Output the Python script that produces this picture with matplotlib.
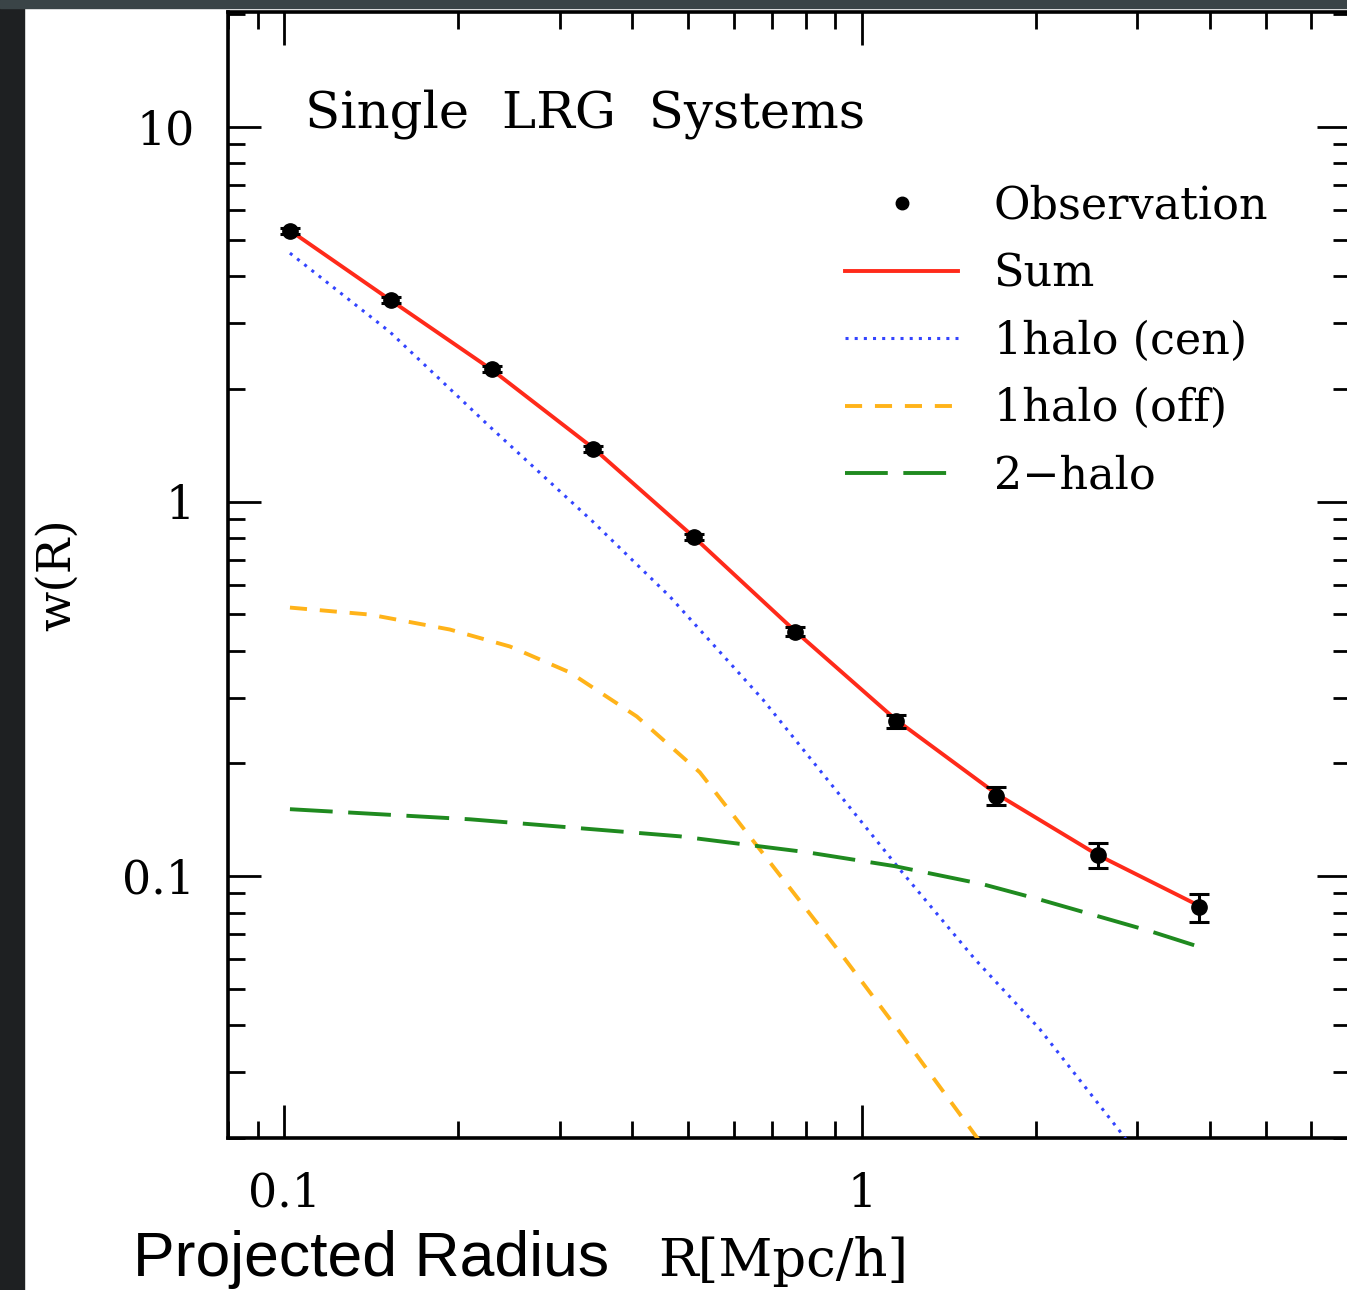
import matplotlib
matplotlib.use('Agg')
import matplotlib.pyplot as plt
from matplotlib.lines import Line2D
from matplotlib.patches import Rectangle
from matplotlib.ticker import FixedLocator, FixedFormatter, LogLocator, NullFormatter

r_obs = [0.1024, 0.153, 0.229, 0.343, 0.512, 0.766, 1.145, 1.71, 2.56, 3.83]
w_obs = [5.28, 3.46, 2.26, 1.385, 0.807, 0.450, 0.259, 0.164, 0.1138, 0.0827]
w_err = [0.10, 0.06, 0.04, 0.025, 0.015, 0.012, 0.011, 0.009, 0.0085, 0.0071]

# model curves
r_sum = [0.1024, 0.153, 0.229, 0.343, 0.512, 0.766, 1.145, 1.71, 2.56, 3.83]
w_sum = [5.30, 3.45, 2.25, 1.39, 0.805, 0.452, 0.262, 0.166, 0.114, 0.0835]

r_cen = [0.1024, 0.1525, 0.2272, 0.341, 0.4655, 0.674, 1.163, 1.569, 2.032, 2.85, 3.2]
w_cen = [4.61, 2.84, 1.585, 0.89, 0.558, 0.2965, 0.1044, 0.0601, 0.0391, 0.0201, 0.0155]

r_off = [0.1024, 0.1409, 0.1937, 0.246, 0.3125, 0.408, 0.5245, 0.666, 0.916, 1.163, 1.581, 1.75]
w_off = [0.5215, 0.4995, 0.4557, 0.4106, 0.35, 0.267, 0.1894, 0.118, 0.0627, 0.0384, 0.0201, 0.0165]

r_2h = [0.1024, 0.2098, 0.4842, 0.803, 1.14, 1.62, 2.025, 3.15, 3.80]
w_2h = [0.151, 0.1419, 0.1278, 0.1159, 0.1064, 0.0952, 0.0868, 0.0714, 0.0651]

labels = ['Observation', 'Sum', '1halo (cen)', '1halo (off)', '2\u2212halo']

plt.rcParams['font.family'] = ['DejaVu Serif']

fig = plt.figure(figsize=(13.47, 12.90), dpi=100)
# dark frame of the screenshot
fig.patches.append(Rectangle((0, 0), 24 / 1347, 1, transform=fig.transFigure,
                             color='#1e2022', zorder=10))
fig.patches.append(Rectangle((0, 1 - 8 / 1290), 1, 8 / 1290, transform=fig.transFigure,
                             color='#3a4447', zorder=10))

ax = fig.add_axes([228 / 1347, 1 - 1138 / 1290, 1122 / 1347, 1126 / 1290])
ax.set_xscale('log')
ax.set_yscale('log')
ax.set_xlim(0.08, 7.0)
ax.set_ylim(0.02, 20.3)

ax.errorbar(r_obs, w_obs, yerr=w_err, fmt='o', color='black', ms=11,
            elinewidth=2.2, capsize=7, capthick=2.2, zorder=5)
ax.plot(r_sum, w_sum, color='#ff2a1a', lw=2.8, zorder=4)
ax.plot(r_cen, w_cen, color='#3344ff', lw=2.2, dashes=(1.0, 2.0), zorder=3)
ax.plot(r_off, w_off, color='#ffb319', lw=2.8, dashes=(4.4, 3.3), zorder=3)
ax.plot(r_2h, w_2h, color='#1f8a1f', lw=2.8, dashes=(11, 4), zorder=3)

for sp in ax.spines.values():
    sp.set_linewidth(2.6)

ax.xaxis.set_major_locator(FixedLocator([0.1, 1]))
ax.xaxis.set_major_formatter(FixedFormatter(['0.1', '1']))
ax.xaxis.set_minor_locator(LogLocator(base=10, subs=range(2, 10), numticks=20))
ax.xaxis.set_minor_formatter(NullFormatter())
ax.yaxis.set_major_locator(FixedLocator([0.1, 1, 10]))
ax.yaxis.set_major_formatter(FixedFormatter(['0.1', '1', '10']))
ax.yaxis.set_minor_locator(LogLocator(base=10, subs=range(2, 10), numticks=20))
ax.yaxis.set_minor_formatter(NullFormatter())

ax.tick_params(which='both', direction='in', top=True, right=True, width=2.0)
ax.tick_params(which='major', length=24, labelsize=33)
ax.tick_params(which='minor', length=12)
ax.tick_params(axis='x', which='major', pad=24)
ax.tick_params(axis='y', which='major', pad=24)

ax.text(0.0686, 0.897, 'Single  LRG  Systems', transform=ax.transAxes,
        fontsize=37, va='baseline', ha='left')

ax.set_ylabel('w(R)', fontsize=34, labelpad=30)

handles = [
    Line2D([], [], color='black', marker='o', ls='none', ms=9),
    Line2D([], [], color='#ff2a1a', lw=2.8),
    Line2D([], [], color='#3344ff', lw=2.2, dashes=(1.0, 2.0)),
    Line2D([], [], color='#ffb319', lw=2.8, dashes=(4.4, 3.3)),
    Line2D([], [], color='#1f8a1f', lw=2.8, dashes=(11, 4)),
]
ax.legend(handles, labels, loc='upper left', bbox_to_anchor=(0.55, 0.847),
          frameon=False, fontsize=32, handlelength=2.55, handletextpad=0.79,
          labelspacing=0.55, borderpad=0, borderaxespad=0)

fig.text(133 / 1347, 1 - 1276 / 1290, 'Projected Radius', fontsize=45,
         family='Liberation Sans', va='baseline', ha='left')
fig.text(658 / 1347, 1 - 1276 / 1290, 'R[Mpc/h]', fontsize=38,
         va='baseline', ha='left')

fig.savefig('out.png', dpi=100, facecolor='white')
